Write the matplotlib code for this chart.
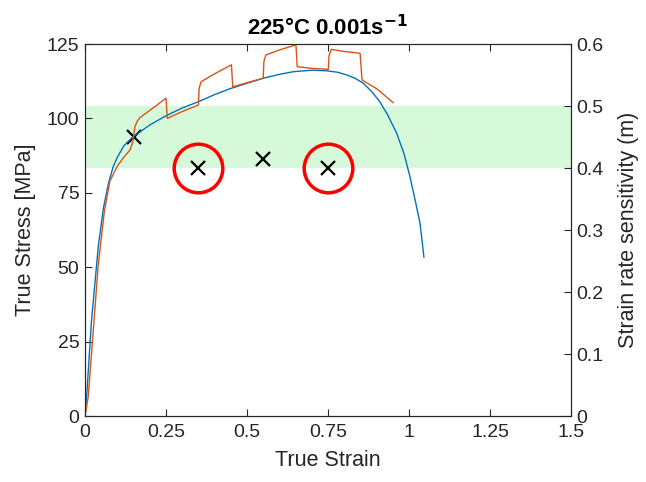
import matplotlib
matplotlib.use("Agg")
import matplotlib.pyplot as plt

plt.rcParams["font.family"] = ["Liberation Sans", "DejaVu Sans"]

# blue curve: true strain / true stress
blue_strain = [0, 0.005, 0.02, 0.041, 0.057, 0.072, 0.087, 0.1, 0.12, 0.149, 0.2, 0.252,
               0.3, 0.35, 0.4, 0.448, 0.5, 0.55, 0.6, 0.643, 0.7, 0.746, 0.78,
               0.808, 0.835, 0.859, 0.885, 0.91, 0.935, 0.962, 0.985, 1.003,
               1.02, 1.034, 1.046]
blue_stress = [0, 6.5, 32, 57, 70, 78, 83.8, 87, 90.8, 93.9, 97.8, 101,
               103.5, 105.6, 108, 110, 111.8, 113.5, 114.8, 115.7, 116.2, 116, 115.5,
               114.6, 113.4, 111.8, 109, 105.6, 101, 95, 88, 80.4,
               72, 64.8, 53.4]

# orange curve: jump test
orange_strain = [0, 0.01, 0.025, 0.041, 0.06, 0.077, 0.1, 0.12, 0.139, 0.147, 0.154,
                 0.162, 0.17, 0.21, 0.25, 0.254, 0.3, 0.35, 0.352, 0.358, 0.4,
                 0.452, 0.456, 0.5, 0.55, 0.552, 0.558, 0.6, 0.651, 0.655, 0.7,
                 0.751, 0.753, 0.76, 0.8, 0.849, 0.855, 0.9, 0.951]
orange_stress = [0, 6.5, 28, 51, 69, 79, 84, 87, 89.4, 92, 97.2,
                 99.2, 100.3, 103.5, 106.8, 100, 102.3, 104.5, 110, 112.3, 115,
                 118, 110.6, 112, 113.5, 119, 121.3, 123, 124.7, 117.4, 116.8,
                 116.5, 121, 123.2, 122.5, 121.9, 112.9, 110, 105.3]

# strain rate sensitivity points
m_strain = [0.15, 0.35, 0.55, 0.75]
m_value = [0.45, 0.40, 0.415, 0.40]
circled_strain = [0.35, 0.75]
circled_m = [0.40, 0.40]

fig = plt.figure(figsize=(6.46, 4.82), dpi=100)
ax = fig.add_axes([0.1316, 0.1369, 0.7523, 0.7718])
ax2 = ax.twinx()
ax.set_zorder(ax2.get_zorder() + 1)
ax.patch.set_visible(False)

# green band on right axis
ax2.axhspan(0.4, 0.5, color="#d6f9d9", zorder=0, lw=0)

ax.plot(blue_strain, blue_stress, color="#0072BD", lw=1)
ax.plot(orange_strain, orange_stress, color="#D95319", lw=1)

ax2.plot(m_strain, m_value, "x", color="black", ms=10, mew=1.6, zorder=5)
ax2.plot(circled_strain, circled_m, "o", mfc="none", mec="#ff0000", ms=35, mew=2.5, zorder=5)

ax.set_xlim(0, 1.5)
ax.set_ylim(0, 125)
ax2.set_ylim(0, 0.6)
ax.set_xticks([0, 0.25, 0.5, 0.75, 1, 1.25, 1.5])
ax.set_xticklabels(["0", "0.25", "0.5", "0.75", "1", "1.25", "1.5"])
ax.set_yticks([0, 25, 50, 75, 100, 125])
ax2.set_yticks([0, 0.1, 0.2, 0.3, 0.4, 0.5, 0.6])
ax2.set_yticklabels(["0", "0.1", "0.2", "0.3", "0.4", "0.5", "0.6"])

for a in (ax, ax2):
    a.tick_params(direction="in", length=5, width=0.8, labelsize=14, colors="#262626")
    for s in a.spines.values():
        s.set_color("#262626")
        s.set_linewidth(0.8)
ax.tick_params(axis="x", top=True, pad=6)
ax.tick_params(axis="y", pad=4)
ax2.tick_params(axis="y", pad=4)

ax.set_xlabel("True Strain", fontsize=15.5, color="#262626", labelpad=6)
ax.set_ylabel("True Stress [MPa]", fontsize=15.5, color="#262626", labelpad=8)
ax2.set_ylabel("Strain rate sensitivity (m)", fontsize=15.5, color="#262626", labelpad=10)
ax.set_title(r"225°C 0.001s$^{\mathbf{-1}}$", fontsize=16, fontweight="bold", pad=6)

fig.savefig("out.png", dpi=100)
